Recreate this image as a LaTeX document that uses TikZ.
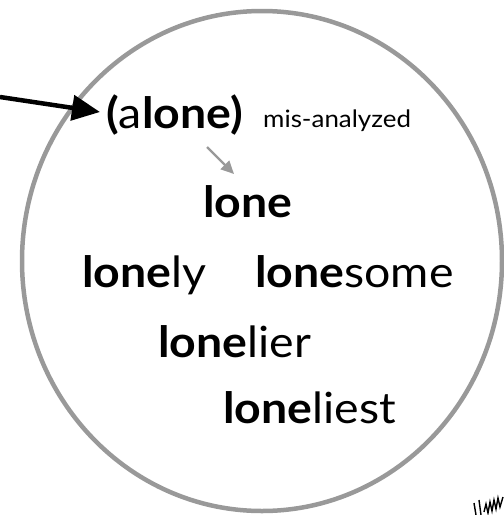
\documentclass[tikz,border=0pt]{standalone}
\usepackage{fontspec}
\setmainfont{Lato}[FakeStretch=1.08]
\usetikzlibrary{arrows.meta}
\definecolor{ringgray}{RGB}{153,153,153}
\begin{document}
\begin{tikzpicture}[x=1pt,y=-1pt,
  word/.style={anchor=base west,inner sep=0pt,font=\fontsize{43}{45}\selectfont},
  note/.style={anchor=base west,inner sep=0pt,font=\fontsize{24}{26}\selectfont}]
\useasboundingbox (0,0) rectangle (504,515);
\draw[ringgray,line width=4.5pt] (262,261) ellipse [x radius=240, y radius=250];
\node[word] (alone) at (106,128) {\textbf{(}a\textbf{lone)}};
\node[note] (mis) at (263,127) {mis-analyzed};
\node[word] (lone) at (203,217) {\textbf{lone}};
\node[word] (lonely) at (82,287) {\textbf{lone}ly};
\node[word] (lonesome) at (255,287) {\textbf{lone}some};
\node[word] (lonelier) at (158,357) {\textbf{lone}lier};
\node[word] (loneliest) at (223,423) {\textbf{lone}liest};
\coordinate (src) at (0,97);
\coordinate (tip) at ([xshift=-6pt]alone.west |- 0,112);
\draw[line width=4.5pt,-{Triangle[length=28pt,width=25pt]}] (src) -- (tip);
\coordinate (g1) at (207,147);
\coordinate (g2) at (234,174);
\draw[ringgray,line width=2.2pt,-{Triangle[length=13pt,width=12pt]}] (g1) -- (g2);
\begin{scope}[line width=1.4pt,black]
\draw (474,503) -- (476,515);
\draw (479,500) -- (481,515);
\draw (484,512) -- (486,504) -- (488,513) -- (490,502) -- (492,511) -- (494,500) -- (496,509) -- (498,498) -- (500,507) -- (503,497);
\end{scope}
\end{tikzpicture}
\end{document}
